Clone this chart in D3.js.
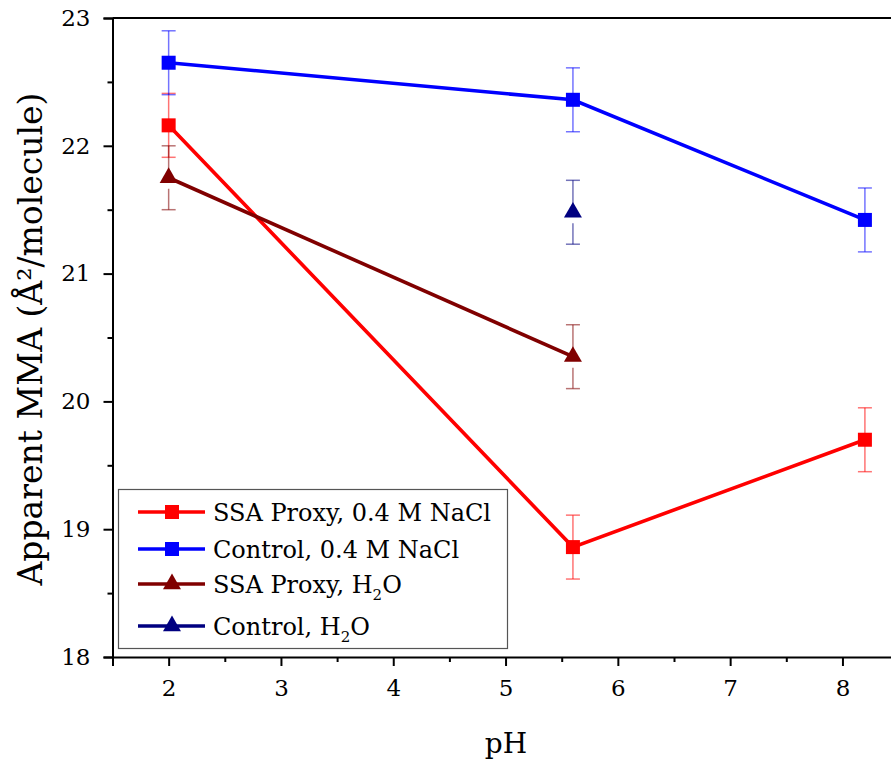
<!DOCTYPE html>
<html>
<head>
<meta charset="utf-8">
<script src="https://cdn.jsdelivr.net/npm/d3@7"></script>
<style>
  body { margin: 0; background: #fff; }
  svg text { font-family: "DejaVu Serif", serif; fill: #000; }
</style>
</head>
<body>
<svg id="chart" width="891" height="761"></svg>
<script>
  var width = 891, height = 761
  var margin = {left: 112.5, top: 18, bottom: 105}

  // data
  var phNaCl = [2, 5.6, 8.2]
  var ssaNaCl = [22.16, 18.86, 19.70]
  var ctrlNaCl = [22.65, 22.36, 21.42]
  var phH2O = [2, 5.6]
  var ssaH2O = [21.75, 20.35]
  var phCtrlH2O = [5.6]
  var ctrlH2O = [21.48]
  var errNaCl = [0.25, 0.25, 0.25]
  var errH2O = [0.25, 0.25]
  var errCtrlH2O = [0.25]
  var xTicks = [2, 3, 4, 5, 6, 7, 8]
  var yTicks = [18, 19, 20, 21, 22, 23]

  var series = [
    {name: "SSA Proxy, 0.4 M NaCl", x: phNaCl, y: ssaNaCl, e: errNaCl, color: "#ff0000", shape: "square", line: true},
    {name: "Control, 0.4 M NaCl", x: phNaCl, y: ctrlNaCl, e: errNaCl, color: "#0000ff", shape: "square", line: true},
    {name: "SSA Proxy, H2O", x: phH2O, y: ssaH2O, e: errH2O, color: "#800000", shape: "triangle", line: true},
    {name: "Control, H2O", x: phCtrlH2O, y: ctrlH2O, e: errCtrlH2O, color: "#000080", shape: "triangle", line: false}
  ]

  var svg = d3.select("#chart")
  var x = d3.scaleLinear().domain([1.5, 8.5]).range([margin.left, margin.left + 7 * 112.3])
  var y = d3.scaleLinear().domain([18, 23]).range([657, margin.top])

  // frame: top line
  svg.append("line")
    .attr("x1", x(1.5)).attr("x2", width)
    .attr("y1", y(23)).attr("y2", y(23))
    .attr("stroke", "#000").attr("stroke-width", 2)

  // minor ticks
  var xMinor = d3.range(1.5, 8.51, 0.5).filter(function(d){ return xTicks.indexOf(d) < 0 })
  var yMinor = d3.range(18.5, 23, 1)

  var xAxis = svg.append("g")
    .attr("transform", "translate(0," + y(18) + ")")
    .call(d3.axisBottom(x).tickValues(xTicks).tickSize(9).tickPadding(14).tickFormat(d3.format("d")))
  var xAxisMinor = svg.append("g")
    .attr("transform", "translate(0," + y(18) + ")")
    .call(d3.axisBottom(x).tickValues(xMinor).tickSize(5).tickFormat(""))
  var yAxis = svg.append("g")
    .attr("transform", "translate(" + x(1.5) + ",0)")
    .call(d3.axisLeft(y).tickValues(yTicks).tickSize(9).tickPadding(13).tickFormat(d3.format("d")))
  var yAxisMinor = svg.append("g")
    .attr("transform", "translate(" + x(1.5) + ",0)")
    .call(d3.axisLeft(y).tickValues(yMinor).tickSize(5).tickFormat(""))

  svg.selectAll("g").attr("font-family", null)
  svg.selectAll(".domain").attr("stroke-width", 2).attr("stroke", "#000")
  svg.selectAll(".tick line").attr("stroke-width", 2).attr("stroke", "#000")
  svg.selectAll(".tick text").attr("font-size", 23)
  xAxisMinor.select(".domain").remove()
  yAxisMinor.select(".domain").remove()

  // axis titles
  svg.append("text")
    .attr("x", 506).attr("y", 753)
    .attr("text-anchor", "middle")
    .attr("font-size", 28)
    .text("pH")
  svg.append("text")
    .attr("transform", "translate(42,339) rotate(-90)")
    .attr("text-anchor", "middle")
    .attr("font-size", 33)
    .text("Apparent MMA (Å²/molecule)")

  var line = d3.line()
    .x(function(d){ return x(d[0]) })
    .y(function(d){ return y(d[1]) })

  var tri = d3.symbol().type(d3.symbolTriangle).size(140)

  function drawMarker(g, px, py, s) {
    if (s.shape == "square") {
      g.append("rect")
        .attr("x", px - 7).attr("y", py - 7)
        .attr("width", 14).attr("height", 14)
        .attr("fill", s.color)
    } else {
      g.append("path")
        .attr("d", tri)
        .attr("transform", "translate(" + px + "," + py + ")")
        .attr("fill", s.color)
    }
  }

  // lines
  series.forEach(function(s) {
    if (!s.line) return
    var pts = s.x.map(function(v, i){ return [v, s.y[i]] })
    svg.append("path")
      .attr("d", line(pts))
      .attr("fill", "none")
      .attr("stroke", s.color)
      .attr("stroke-width", 3.6)
  })

  // error bars
  series.forEach(function(s) {
    var g = svg.append("g")
      .attr("stroke", s.color)
      .attr("stroke-opacity", 0.55)
      .attr("stroke-width", 1.5)
    s.x.forEach(function(v, i) {
      var px = x(v), yt = y(s.y[i] + s.e[i]), yb = y(s.y[i] - s.e[i]), yc = y(s.y[i])
      var gap = s.shape == "triangle" ? 11 : 0
      g.append("line").attr("x1", px).attr("x2", px).attr("y1", yt).attr("y2", yc)
      g.append("line").attr("x1", px).attr("x2", px).attr("y1", yc + gap).attr("y2", yb)
      g.append("line").attr("x1", px - 7).attr("x2", px + 7).attr("y1", yt).attr("y2", yt)
      g.append("line").attr("x1", px - 7).attr("x2", px + 7).attr("y1", yb).attr("y2", yb)
    })
  })

  // markers
  series.forEach(function(s) {
    var g = svg.append("g")
    s.x.forEach(function(v, i) {
      drawMarker(g, x(v), y(s.y[i]), s)
    })
  })

  // legend
  var legend = svg.append("g")
  legend.append("rect")
    .attr("x", 118.5).attr("y", 489.5)
    .attr("width", 389).attr("height", 159)
    .attr("fill", "#fff")
    .attr("stroke", "#555").attr("stroke-width", 1.2)

  var rowY = [512, 549, 584, 626]
  series.forEach(function(s, i) {
    var ry = rowY[i]
    legend.append("line")
      .attr("x1", 138).attr("x2", 205)
      .attr("y1", ry).attr("y2", ry)
      .attr("stroke", s.color).attr("stroke-width", 3.6)
    drawMarker(legend, 172, ry, s)
    var t = legend.append("text")
      .attr("x", 213).attr("y", ry + 9)
      .attr("font-size", 24)
    if (s.name.indexOf("H2O") >= 0) {
      t.append("tspan").text(s.name.replace("H2O", "H"))
      t.append("tspan").attr("font-size", 15).attr("dy", 7).text("2")
      t.append("tspan").attr("dy", -7).text("O")
    } else {
      t.text(s.name)
    }
  })
</script>
</body>
</html>
